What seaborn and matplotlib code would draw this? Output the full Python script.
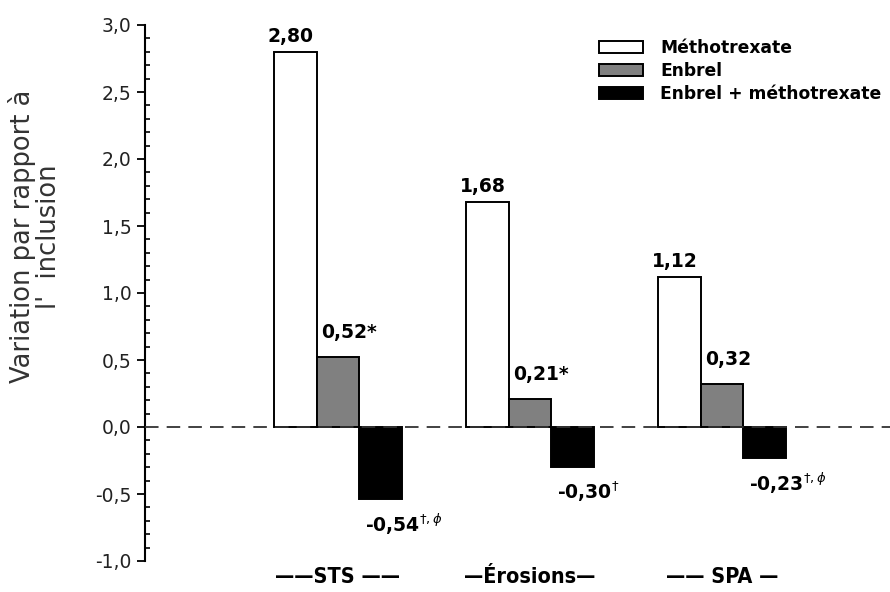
import matplotlib
matplotlib.use("Agg")
import matplotlib.pyplot as plt
import seaborn as sns
import pandas as pd
from matplotlib.patches import Patch
from matplotlib.ticker import MultipleLocator, FuncFormatter

# ---- data ----
categories = ["STS", "Érosions", "SPA"]
tick_labels = ["——STS ——", "—Érosions—", "—— SPA —"]
treatments = ["Méthotrexate", "Enbrel", "Enbrel + méthotrexate"]
mtx = [2.80, 1.68, 1.12]
enbrel = [0.52, 0.21, 0.32]
combo = [-0.54, -0.30, -0.23]
mtx_labels = ["2,80", "1,68", "1,12"]
enbrel_labels = ["0,52*", "0,21*", "0,32"]
combo_labels = [r"-0,54$^{\dagger,\phi}$", r"-0,30$^{\dagger}$", r"-0,23$^{\dagger,\phi}$"]
colors = ["#ffffff", "#808080", "#000000"]
ylabel = "Variation par rapport à\nl'  inclusion"

rows = []
for t, vals in zip(treatments, [mtx, enbrel, combo]):
    for c, v in zip(categories, vals):
        rows.append({"cat": c, "treat": t, "val": v})
df = pd.DataFrame(rows)

sns.set_theme(style="white")
plt.rcParams["font.family"] = ["DejaVu Sans"]
plt.rcParams["text.color"] = "black"
plt.rcParams["axes.labelcolor"] = "#333333"

fig = plt.figure(figsize=(8.9, 5.92), dpi=100)
ax = fig.add_axes([145 / 890, 31 / 592, 745 / 890, 536 / 592])

sns.barplot(data=df, x="cat", y="val", hue="treat", order=categories,
            hue_order=treatments, palette=colors, width=0.67,
            edgecolor="black", linewidth=1.4, saturation=1, ax=ax,
            legend=False, errorbar=None)

ax.set_ylim(-1.0, 3.0)
ax.set_xlim(-1.005, 2.875)
ax.axhline(0, color="#333333", lw=1.3, ls=(0, (7.5, 4.5)), zorder=5)

# spines and ticks
for s in ["top", "right", "bottom"]:
    ax.spines[s].set_visible(False)
ax.spines["left"].set_color("black")
ax.spines["left"].set_linewidth(1.5)
ax.yaxis.set_major_locator(MultipleLocator(0.5))
ax.yaxis.set_minor_locator(MultipleLocator(0.1))
ax.yaxis.set_major_formatter(FuncFormatter(lambda v, p: f"{v:.1f}".replace(".", ",")))
ax.yaxis.set_tick_params(which="major", direction="out", length=6, width=1.3,
                         color="black", labelcolor="#222222", labelsize=13.5, left=True)
ax.yaxis.set_tick_params(which="minor", direction="in", length=3.5, width=1.2,
                         color="black", left=True)

ax.set_xticks(range(len(categories)))
ax.set_xticklabels(tick_labels, fontsize=15.5, fontweight="semibold")
for lab in ax.get_xticklabels():
    lab.set_fontfamily(["DejaVu Sans"])
    lab.set_fontstretch("condensed")
    lab.set_color("black")
ax.tick_params(axis="x", length=0, pad=4)
ax.set_xlabel("")

ax.set_ylabel(ylabel, fontsize=18.5, linespacing=1.0)
ax.yaxis.set_label_coords(-0.148, 0.605)
ax.yaxis.label.set_va("center")

# value labels
conts = ax.containers
label_sets = [mtx_labels, enbrel_labels, combo_labels]
fs = 13.5
for ci, (cont, labs) in enumerate(zip(conts, label_sets)):
    for bar, lab in zip(cont.patches, labs):
        x0 = bar.get_x()
        w = bar.get_width()
        h = bar.get_height()
        if ci == 0:
            ax.annotate(lab, (x0 + w / 2, h), xytext=(-3, 4), textcoords="offset points",
                        ha="center", va="bottom", fontsize=fs, fontweight="bold")
        elif ci == 1:
            ax.annotate(lab, (x0, h), xytext=(3, 11), textcoords="offset points",
                        ha="left", va="bottom", fontsize=fs, fontweight="bold")
        else:
            ax.annotate(lab, (x0, h), xytext=(4, -9), textcoords="offset points",
                        ha="left", va="top", fontsize=fs, fontweight="bold")

handles = [Patch(facecolor=c, edgecolor="black", linewidth=1.4) for c in colors]
leg = ax.legend(handles, treatments, loc="upper right", bbox_to_anchor=(1.0, 0.99),
                frameon=False, prop={"weight": "bold", "size": 12.3},
                handlelength=2.6, handleheight=0.7, labelspacing=0.3,
                handletextpad=1.0, borderaxespad=0.1)
for t in leg.get_texts():
    t.set_color("black")

fig.savefig("out.png", dpi=100)
